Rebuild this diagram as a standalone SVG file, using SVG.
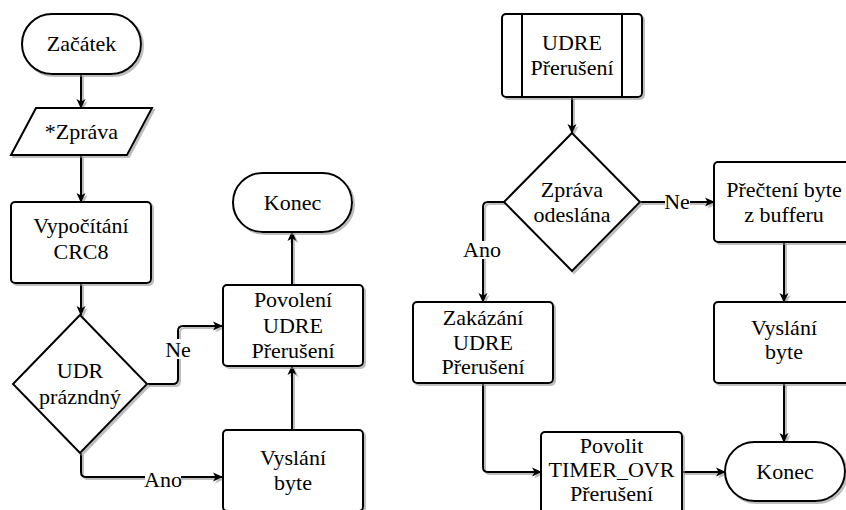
<svg xmlns="http://www.w3.org/2000/svg" width="846" height="510" viewBox="0 0 846 510">
  <defs>
    <filter id="shadow" filterUnits="userSpaceOnUse" x="0" y="0" width="846" height="510">
      <feDropShadow dx="2" dy="2" stdDeviation="0.6" flood-color="#888" flood-opacity="0.55"/>
    </filter>
    <marker id="arrow" viewBox="0 0 10 10" refX="9" refY="5" markerWidth="10" markerHeight="10" markerUnits="userSpaceOnUse" orient="auto">
      <path d="M0,0.5 L10,5 L0,9.5 L2.5,5 Z" fill="#000"/>
    </marker>
    <style>
      .shape { fill: #fff; stroke: #000; stroke-width: 2; filter: url(#shadow); }
      .line { fill: none; stroke: #000; stroke-width: 2; filter: url(#shadow); }
      .arr { marker-end: url(#arrow); }
      text { font-family: Liberation Serif, DejaVu Serif, serif; font-size: 22px; fill: #000; text-anchor: middle; }
      .lbl-bg { fill: #fff; stroke: none; }
    </style>
  </defs>

  <!-- connectors -->
  <g id="connectors">
    <path class="line arr" d="M81,74 V108"/>
    <path class="line arr" d="M81,155 V202"/>
    <path class="line arr" d="M81,283 V315"/>
    <path class="line arr" d="M147,384 H173 Q178,384 178,379 V331 Q178,326 183,326 H222"/>
    <path class="line arr" d="M81,453 V472 Q81,477 86,477 H222"/>
    <path class="line arr" d="M292,430 V366"/>
    <path class="line arr" d="M292,285 V232"/>

    <path class="line arr" d="M572,97 V133"/>
    <path class="line arr" d="M640,202 H714"/>
    <path class="line arr" d="M504,202 H488 Q483,202 483,207 V302"/>
    <path class="line arr" d="M784,242 V302"/>
    <path class="line arr" d="M784,383 V442"/>
    <path class="line arr" d="M483,383 V467 Q483,472 488,472 H541"/>
    <path class="line arr" d="M682,472 H725"/>

    <!-- branch labels -->
    <rect class="lbl-bg" x="165" y="339" width="26" height="20"/>
    <text x="178" y="357">Ne</text>
    <rect class="lbl-bg" x="145" y="469" width="36" height="18"/>
    <text x="163" y="487">Ano</text>
    <rect class="lbl-bg" x="665" y="193" width="25" height="17"/>
    <text x="677" y="209">Ne</text>
    <rect class="lbl-bg" x="464" y="241" width="36" height="18"/>
    <text x="482" y="257">Ano</text>
  </g>

  <!-- left flow -->
  <g id="start">
    <rect class="shape" x="22" y="14" width="119" height="60" rx="30" ry="30"/>
    <text x="81.5" y="51">Začátek</text>
  </g>
  <g id="message">
    <polygon class="shape" points="36,108 152,108 127,155 11,155"/>
    <text x="81.5" y="139">*Zpráva</text>
  </g>
  <g id="crc">
    <rect class="shape" x="11" y="202" width="140" height="81" rx="4" ry="4"/>
    <text x="81" y="233">Vypočítání</text>
    <text x="81" y="259">CRC8</text>
  </g>
  <g id="udr-empty">
    <polygon class="shape" points="80,315 147,384 80,453 13,384"/>
    <text x="80" y="378">UDR</text>
    <text x="80" y="404">prázndný</text>
  </g>
  <g id="enable-udre">
    <rect class="shape" x="223" y="285" width="140" height="81" rx="4" ry="4"/>
    <text x="293" y="307">Povolení</text>
    <text x="293" y="333">UDRE</text>
    <text x="293" y="358">Přerušení</text>
  </g>
  <g id="end-left">
    <rect class="shape" x="233" y="173" width="119" height="59" rx="29.5" ry="29.5"/>
    <text x="292.5" y="210">Konec</text>
  </g>
  <g id="send-left">
    <rect class="shape" x="223" y="430" width="140" height="81" rx="4" ry="4"/>
    <text x="293" y="465">Vyslání</text>
    <text x="293" y="490">byte</text>
  </g>

  <!-- right flow -->
  <g id="udre-isr">
    <rect class="shape" x="502" y="14" width="140" height="83" rx="4" ry="4"/>
    <line x1="522" y1="14" x2="522" y2="97" stroke="#000" stroke-width="2"/>
    <line x1="622" y1="14" x2="622" y2="97" stroke="#000" stroke-width="2"/>
    <text x="572" y="50">UDRE</text>
    <text x="572" y="75">Přerušení</text>
  </g>
  <g id="msg-sent">
    <polygon class="shape" points="572,133 640,202 572,271 504,202"/>
    <text x="572" y="197">Zpráva</text>
    <text x="572" y="222">odeslána</text>
  </g>
  <g id="read-byte">
    <rect class="shape" x="714" y="162" width="140" height="80" rx="4" ry="4"/>
    <text x="784" y="197">Přečtení byte</text>
    <text x="784" y="222">z bufferu</text>
  </g>
  <g id="disable-udre">
    <rect class="shape" x="413" y="302" width="140" height="81" rx="4" ry="4"/>
    <text x="483" y="325">Zakázání</text>
    <text x="483" y="350">UDRE</text>
    <text x="483" y="374">Přerušení</text>
  </g>
  <g id="send-right">
    <rect class="shape" x="714" y="302" width="140" height="81" rx="4" ry="4"/>
    <text x="784" y="335">Vyslání</text>
    <text x="784" y="359">byte</text>
  </g>
  <g id="enable-timer">
    <rect class="shape" x="541" y="432" width="141" height="82" rx="4" ry="4"/>
    <text x="611.5" y="453">Povolit</text>
    <text x="611.5" y="477">TIMER_OVR</text>
    <text x="611.5" y="501">Přerušení</text>
  </g>
  <g id="end-right">
    <rect class="shape" x="725" y="442" width="120" height="59" rx="29.5" ry="29.5"/>
    <text x="785" y="479">Konec</text>
  </g>
</svg>
